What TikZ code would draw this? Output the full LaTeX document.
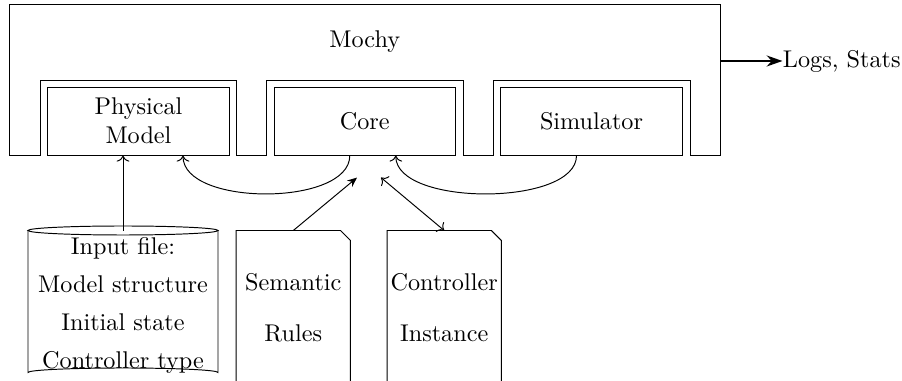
\documentclass[tikz,border=0pt]{standalone}
\usetikzlibrary{calc,arrows.meta}
\begin{document}
\begin{tikzpicture}[x=0.413pt,y=-0.413pt,
  comp/.style={draw, rectangle, minimum width=75pt, minimum height=28pt, inner sep=0pt, align=center},
  docnode/.style={rectangle, minimum width=46.8pt, minimum height=63.2pt, inner sep=0pt, align=center},
  conn/.style={->},
  thickarrow/.style={-{Stealth[length=6.5pt,width=4.5pt]}, line width=1.2pt}]
\useasboundingbox (0,0) rectangle (902,381);
% outer Mochy frame
\draw (9.5,4.5) -- (720,4.5) -- (720,155) -- (690.5,155) -- (690.5,80) -- (493.7,80) -- (493.7,155)
  -- (463.3,155) -- (463.3,80) -- (266.7,80) -- (266.7,155) -- (236.7,155) -- (236.7,80)
  -- (40,80) -- (40,155) -- (9.5,155) -- cycle;
\node (mochy) at (364.8,42) {Mochy};
\coordinate (mochyE) at (720,61);
\node[anchor=west, inner sep=0pt] (logs) at (782.5,61) {Logs, Stats};
\draw[thickarrow] (mochyE) -- (logs.west);
% components
\node[comp] (phys) at (138.5,121.2) {Physical\\Model};
\node[comp] (core) at (364.8,121.2) {Core};
\node[comp] (sim) at (591.5,121.2) {Simulator};
% input file cylinder
\draw (28,230.5) -- (28,372.5) arc[start angle=180, end angle=360, x radius=95, y radius=4.5]
  -- (218,230.5);
\draw (123,230.5) ellipse[x radius=95, y radius=4.5];
\node[align=center, inner sep=0pt] (input) at (123,305.5)
  {Input file:\\[3.6pt]Model structure\\[3.6pt]Initial state\\[3.6pt]Controller type};
\coordinate (inputtop) at (123,231);
% documents
\node[docnode] (sem) at (293.3,307.5) {Semantic\\[9pt]Rules};
\draw (sem.south west) -- (sem.north west) -- ($(sem.north east)+(-10,0)$) -- ($(sem.north east)+(0,10)$) -- (sem.south east);
\node[docnode] (ctrl) at (444.2,307.5) {Controller\\[9pt]Instance};
\draw (ctrl.south west) -- (ctrl.north west) -- ($(ctrl.north east)+(-10,0)$) -- ($(ctrl.north east)+(0,10)$) -- (ctrl.south east);
% connectors
\draw[conn] (inputtop) -- (inputtop |- phys.south);
\draw[conn] ($(core.south)+(-15,0)$) .. controls +(0,51) and +(0,51) .. ($(phys.south)+(44.5,0)$);
\draw[conn] ($(sim.south)+(-15,0)$) .. controls +(0,51) and +(0,51) .. ($(core.south)+(31,0)$);
\draw[-{Stealth[length=4pt,width=3.4pt]}] (sem.north) -- ($(core.south)+(-7.8,22)$);
\draw[<->] ($(core.south)+(16.2,22)$) -- (ctrl.north);
\end{tikzpicture}
\end{document}
